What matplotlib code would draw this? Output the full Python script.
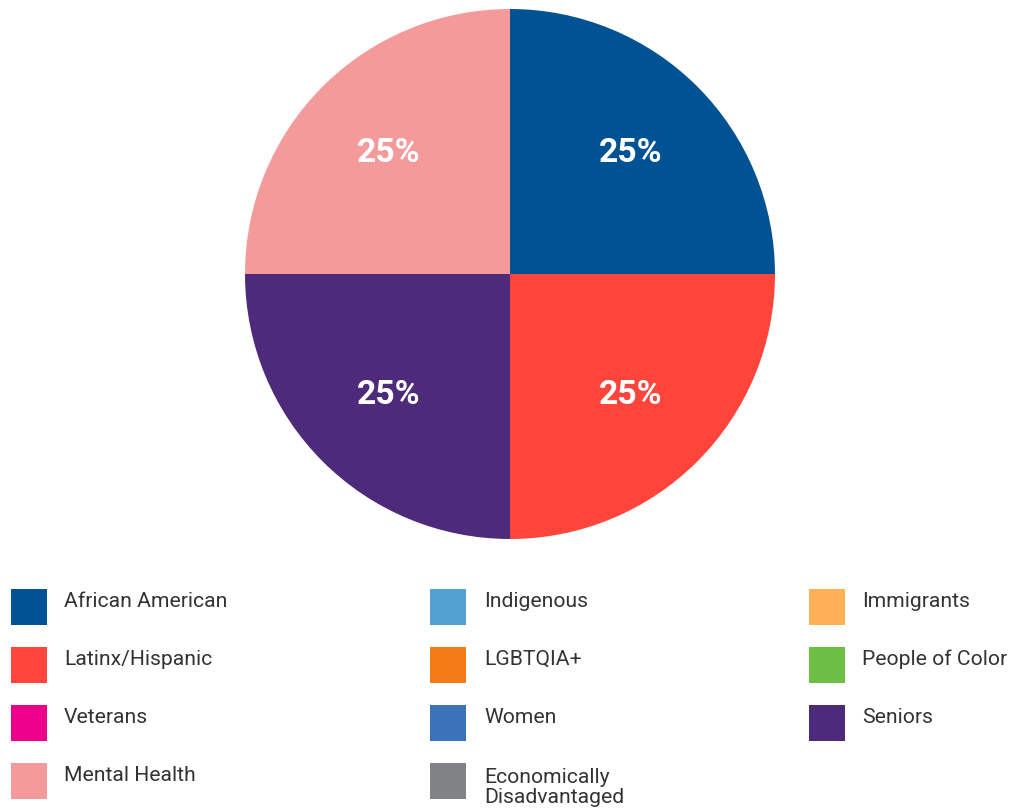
import matplotlib
matplotlib.use("Agg")
import matplotlib.pyplot as plt
from matplotlib.patches import Rectangle

plt.rcParams['font.family'] = ['Roboto', 'DejaVu Sans']

categories = ["African American", "Indigenous", "Immigrants",
              "Latinx/Hispanic", "LGBTQIA+", "People of Color",
              "Veterans", "Women", "Seniors",
              "Mental Health", "Economically\nDisadvantaged"]
values = [25, 0, 0, 25, 0, 0, 0, 0, 25, 25, 0]
colors = ["#005293", "#53A0D3", "#FFB255",
          "#FF443B", "#F57B17", "#6DBE45",
          "#EC008C", "#3B72B9", "#4E2A7A",
          "#F49A9A", "#808285"]

W, H = 1011, 810
fig = plt.figure(figsize=(W / 100, H / 100), dpi=100)

cx, cy, r = 510, 274, 265
ax = fig.add_axes([(cx - r) / W, (H - cy - r) / H, 2 * r / W, 2 * r / H])


def fmt(p):
    return f"{p:.0f}%" if p > 0.5 else ""


wedges, texts, autotexts = ax.pie(
    values, colors=colors, startangle=90, counterclock=False,
    autopct=fmt, pctdistance=0.645, radius=1,
    wedgeprops=dict(linewidth=0),
    textprops=dict(color="white", fontsize=24.3, fontweight="bold"))
ax.set_xlim(-1, 1)
ax.set_ylim(-1, 1)
ax.set_aspect("equal")
ax.axis("off")

# Legend drawn in pixel coordinates
lax = fig.add_axes([0, 0, 1, 1])
lax.set_xlim(0, W)
lax.set_ylim(H, 0)
lax.axis("off")
col_marker_x = [11, 430, 809]
col_text_x = [64, 484, 862]
row_y = [607, 665, 723, 781]
fs = 15.2
for i, (name, c) in enumerate(zip(categories, colors)):
    row, col = divmod(i, 3)
    y = row_y[row]
    lax.add_patch(Rectangle((col_marker_x[col], y - 18), 36, 36,
                            facecolor=c, edgecolor="none"))
    if "\n" in name:
        first, second = name.split("\n")
        lax.text(col_text_x[col], y + 2, first, va="baseline", ha="left",
                 fontsize=fs, color="#333333")
        lax.text(col_text_x[col], y + 22, second, va="baseline", ha="left",
                 fontsize=fs, color="#333333")
    else:
        lax.text(col_text_x[col], y, name, va="baseline", ha="left",
                 fontsize=fs, color="#333333")

fig.savefig("out.png", dpi=100)
